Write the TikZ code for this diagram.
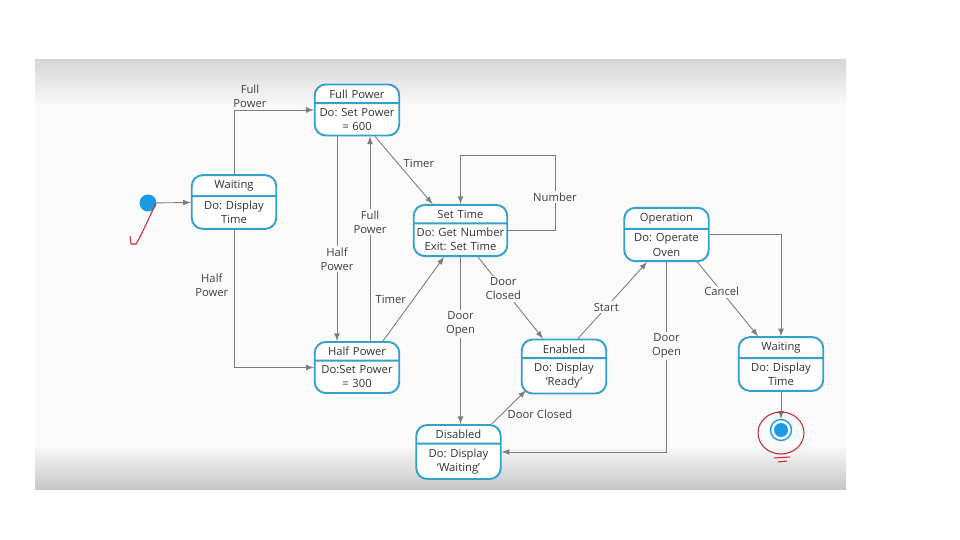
\documentclass[tikz,border=0pt]{standalone}
\usepackage{fontspec}
\setmainfont{Open Sans}
\usetikzlibrary{arrows, shapes, positioning}

\definecolor{stateblue}{RGB}{52,160,205}
\definecolor{dotblue}{RGB}{25,155,230}
\definecolor{panel}{RGB}{250,250,251}
\definecolor{linegray}{RGB}{125,125,125}
\definecolor{inkred}{RGB}{200,45,55}

\begin{document}
\frenchspacing
\begin{tikzpicture}[x=0.02cm, y=-0.02cm,
                    state node/.style= {rectangle split,
                      rectangle split parts=2,
                      rounded corners=0.22cm,
                      draw=stateblue, line width=1.1pt,
                      fill=white, text=black!80,
                      text width=1.62cm, align=center,
                      inner xsep=1pt, inner ysep=2.3pt,
                      font=\fontsize{6.4}{8}\selectfont},
                    start node/.style= {circle, fill=dotblue,
                      inner sep=0pt, minimum size=0.34cm},
                    end node/.style= {circle, draw=dotblue, line width=0.8pt,
                      inner sep=0pt, minimum size=0.42cm,
                      path picture={\fill[dotblue] (path picture bounding box.center) circle (0.14cm);}},
                    trans/.style= {draw=linegray, line width=0.5pt, -latex},
                    lbl/.style= {font=\fontsize{6.4}{8}\selectfont,
                      text=black!75, align=center, inner sep=1pt},
                    onl/.style= {lbl, fill=panel}]

  \useasboundingbox (0,0) rectangle (960,540);
  \fill[panel] (35,60) rectangle (846,489);
  \shade[top color=black!16, bottom color=panel] (35,60) rectangle (846,105);
  \shade[top color=panel, bottom color=black!22] (35,445) rectangle (846,489);

  \node[start node] (0) at (148,203) {};
  \node[state node] (1) at (234,202) {Waiting \nodepart{two} Do: Display\\ Time};
  \node[state node] (2) at (357,110) {Full Power \nodepart{two} Do: Set Power\\ = 600};
  \node[state node] (3) at (357,367.5) {Half Power \nodepart{two} Do:Set Power\\ = 300};
  \node[state node, text width=1.8cm] (4) at (460.5,230.5) {Set Time \nodepart{two} Do: Get Number\\ Exit: Set Time};
  \node[state node] (5) at (458.5,452) {Disabled \nodepart{two} Do: Display\\ `Waiting'};
  \node[state node] (6) at (564,366.5) {Enabled \nodepart{two} Do: Display\\ `Ready'};
  \node[state node] (7) at (666.5,234.5) {Operation \nodepart{two} Do: Operate\\ Oven};
  \node[state node] (8) at (781,364) {Waiting \nodepart{two} Do: Display\\ Time};
  \node[end node] (9) at (781,430) {};
  \coordinate (4loop) at (555,155);

  \path[every edge/.style=trans]
    (0) edge (1)
    ([xshift=-0.4cm]2.south) edge node[onl, pos=0.6] {Half\\Power} ([xshift=-0.4cm]3.north)
    ([xshift=0.26cm]3.north) edge node[onl, pos=0.58] {Full\\Power} ([xshift=0.26cm]2.south)
    ([xshift=0.36cm]2.south) edge node[lbl, pos=0.4, right=2pt] {Timer} ([xshift=-0.56cm]4.north)
    ([xshift=0.52cm]3.north) edge node[lbl, pos=0.5, left=3pt] {Timer} ([xshift=-0.33cm]4.south)
    (4.south) edge node[onl, pos=0.4] {Door\\Open} (4.south |- 5.north)
    ([xshift=0.35cm]4.south) edge node[onl, pos=0.39] {Door\\Closed} ([xshift=-0.42cm]6.north)
    ([xshift=-0.2cm]5.north east) edge node[lbl, pos=0.3, right=2pt] {Door Closed} ([xshift=0.1cm, yshift=0.08cm]6.south west)
    ([xshift=0.28cm]6.north) edge node[onl, pos=0.41] {Start} ([xshift=-0.39cm]7.south)
    ([xshift=0.62cm]7.south) edge node[onl, pos=0.4] {Cancel} ([xshift=-0.46cm]8.north)
    (8.south) edge (9.north);

  \draw[trans] (1.north) |- node[lbl, pos=0.6, above] {Full\\Power} (2.west);
  \draw[trans] (1.south) |- node[lbl, pos=0.2, left=2pt] {Half\\Power} (3.west);
  \draw[trans] (4.east) -| node[onl, pos=0.72] {Number} (4loop) -| (4.north);
  \draw[trans] (7.south) |- node[onl, pos=0.22] {Door\\Open} (5.east);
  \draw[trans] (7.east) -| (8.north);

  \draw[inkred, line width=0.6pt] (156,203) .. controls (150,216) and (140,238) .. (136,244)
    -- (131,244) -- (130,236);
  \draw[inkred, line width=0.6pt] (781,433) ellipse [x radius=0.46cm, y radius=0.42cm];
  \draw[inkred, line width=0.6pt] (774,458) -- (790,457) (778,462) -- (787,461);
\end{tikzpicture}
\end{document}
